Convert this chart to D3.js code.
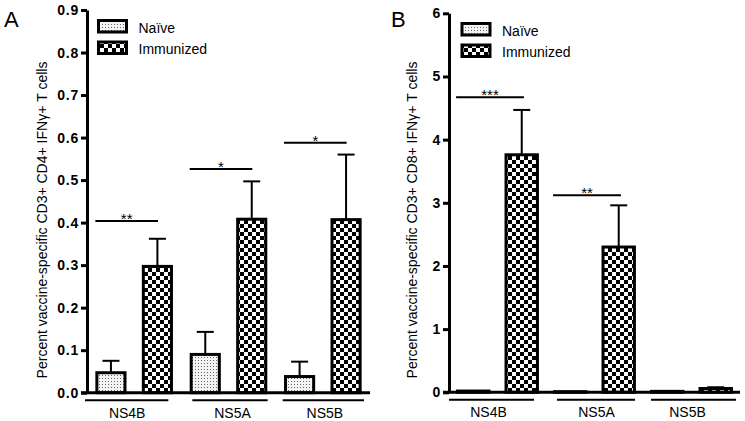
<!DOCTYPE html>
<html>
<head>
  <meta http-equiv="Content-Type" content="text/html;charset=utf-8">
  <title>CD4 / CD8 IFNγ bars</title>
  <script src="https://d3js.org/d3.v7.min.js"></script>
  <style type="text/css">
    body { margin: 0; background: #fff; }
    text { font-family: "Liberation Sans", Arial, sans-serif; fill: #000; }
    .tick text { font-weight: bold; font-size: 14px; letter-spacing: 0.8px; font-family: "Liberation Sans", Arial, sans-serif; }
    .tick line, .domain { stroke: #000; stroke-width: 3px; }
  </style>
</head>
<body>
  <svg width="745" height="421"></svg>
  <script type='text/javascript'>
    const categories = ['NS4B', 'NS5A', 'NS5B'];
    const groups = ['Naïve', 'Immunized'];

    // panel A: CD4+ (mean and SEM)
    const cd4Naive = [0.047, 0.090, 0.038];
    const cd4NaiveErr = [0.028, 0.053, 0.035];
    const cd4Immun = [0.297, 0.408, 0.407];
    const cd4ImmunErr = [0.065, 0.089, 0.153];
    const cd4Stars = ['**', '*', '*'];
    const cd4StarLevel = [0.404, 0.526, 0.588];
    const cd4Ticks = [0, 0.1, 0.2, 0.3, 0.4, 0.5, 0.6, 0.7, 0.8, 0.9];

    // panel B: CD8+
    const cd8Naive = [0.02, 0.01, 0.015];
    const cd8NaiveErr = [0, 0, 0];
    const cd8Immun = [3.76, 2.30, 0.06];
    const cd8ImmunErr = [0.71, 0.66, 0.02];
    const cd8Stars = ['***', '**', ''];
    const cd8StarLevel = [4.67, 3.12, null];
    const cd8Ticks = [0, 1, 2, 3, 4, 5, 6];

    const svg = d3.select('svg');

    // fill patterns
    const defs = svg.append('defs');
    const stip = defs.append('pattern').attr('id', 'stipple')
      .attr('patternUnits', 'userSpaceOnUse').attr('width', 3).attr('height', 3);
    stip.append('rect').attr('width', 3).attr('height', 3).attr('fill', '#f4f4f4');
    stip.append('rect').attr('width', 1).attr('height', 1).attr('fill', '#666');
    const chk = defs.append('pattern').attr('id', 'checker')
      .attr('patternUnits', 'userSpaceOnUse').attr('width', 8).attr('height', 8);
    chk.append('rect').attr('width', 8).attr('height', 8).attr('fill', '#fff');
    chk.append('rect').attr('width', 4).attr('height', 4).attr('fill', '#000');
    chk.append('rect').attr('x', 4).attr('y', 4).attr('width', 4).attr('height', 4).attr('fill', '#000');
    const fills = ['url(#stipple)', 'url(#checker)'];

    function panel(o) {
      const g = svg.append('g');
      const y = d3.scaleLinear().domain(o.domain).range([o.y0, o.y1]);
      const x = d3.scaleBand().domain(categories).range([o.x0, o.x1]);
      const xs = d3.scaleBand().domain(groups).range([0, x.bandwidth()])
        .paddingInner(o.padIn).paddingOuter(o.padOut);

      const rows = [];
      categories.forEach((c, i) => {
        rows.push({ c: c, k: groups[0], v: o.naive[i], e: o.naiveErr[i] });
        rows.push({ c: c, k: groups[1], v: o.immun[i], e: o.immunErr[i] });
      });

      // error bars (upward only)
      const eb = g.selectAll('.err').data(rows.filter(d => d.e > 0)).enter().append('g');
      eb.append('line')
        .attr('x1', d => x(d.c) + xs(d.k) + xs.bandwidth() / 2)
        .attr('x2', d => x(d.c) + xs(d.k) + xs.bandwidth() / 2)
        .attr('y1', d => y(d.v)).attr('y2', d => y(d.v + d.e))
        .attr('stroke', '#000').attr('stroke-width', 2);
      eb.append('line')
        .attr('x1', d => x(d.c) + xs(d.k) + xs.bandwidth() / 2 - 8.5)
        .attr('x2', d => x(d.c) + xs(d.k) + xs.bandwidth() / 2 + 8.5)
        .attr('y1', d => y(d.v + d.e)).attr('y2', d => y(d.v + d.e))
        .attr('stroke', '#000').attr('stroke-width', 2);

      // bars
      g.selectAll('.bar').data(rows).enter().append('rect')
        .attr('x', d => x(d.c) + xs(d.k) + 1.5)
        .attr('width', xs.bandwidth() - 3)
        .attr('y', d => y(d.v))
        .attr('height', d => y(0) - y(d.v))
        .attr('fill', d => fills[groups.indexOf(d.k)])
        .attr('stroke', '#000').attr('stroke-width', 3);

      // y axis
      g.append('g').attr('transform', `translate(${o.x0},0)`)
        .call(d3.axisLeft(y).tickValues(o.ticks).tickFormat(d3.format(o.fmt))
          .tickSize(6).tickSizeOuter(0).tickPadding(2));

      // x axis line
      g.append('line').attr('x1', o.x0 - 6).attr('x2', o.x1)
        .attr('y1', y(0)).attr('y2', y(0))
        .attr('stroke', '#000').attr('stroke-width', 3);

      // category underlines and labels
      categories.forEach((c, i) => {
        g.append('line')
          .attr('x1', x(c) + o.ul[i][0]).attr('x2', x(c) + x.bandwidth() + o.ul[i][1])
          .attr('y1', y(0) + 7.5).attr('y2', y(0) + 7.5)
          .attr('stroke', '#000').attr('stroke-width', 2);
        g.append('text').attr('x', x(c) + x.bandwidth() / 2 + o.ul[i][2]).attr('y', y(0) + 25)
          .attr('text-anchor', 'middle').style('font-size', '14px').text(c);
      });

      // significance bars
      categories.forEach((c, i) => {
        if (!o.stars[i]) return;
        const ly = y(o.starLevel[i]);
        const xa = x(c) + xs(groups[0]);
        const xb = x(c) + xs(groups[1]) + xs.bandwidth();
        g.append('line').attr('x1', xa).attr('x2', xb - 15)
          .attr('y1', ly).attr('y2', ly).attr('stroke', '#000').attr('stroke-width', 2);
        g.append('text').attr('x', (xa + xb - 15) / 2).attr('y', ly + 3)
          .attr('text-anchor', 'middle').style('font-size', '15px').text(o.stars[i]);
      });

      // legend
      groups.forEach((k, i) => {
        const ly = o.legY + i * 21.5;
        g.append('rect').attr('x', o.legX).attr('y', ly).attr('width', 28).attr('height', 11.5)
          .attr('fill', fills[i]).attr('stroke', '#000').attr('stroke-width', 3);
        g.append('text').attr('x', o.legX + 40).attr('y', ly + 12)
          .style('font-size', '14px').text(k);
      });

      // y title and panel letter
      g.append('text')
        .attr('transform', `translate(${o.titleX},${o.titleY}) rotate(-90)`)
        .attr('text-anchor', 'middle').style('font-size', '14px').text(o.title);
      g.append('text').attr('x', o.letterX).attr('y', 27)
        .style('font-size', '22px').text(o.letter);
    }

    panel({
      domain: [0, 0.9], y0: 392.7, y1: 10, x0: 87, x1: 370,
      padIn: 0.33, padOut: 0.18, ticks: cd4Ticks, fmt: '.1f',
      naive: cd4Naive, naiveErr: cd4NaiveErr, immun: cd4Immun, immunErr: cd4ImmunErr,
      stars: cd4Stars, starLevel: cd4StarLevel,
      ul: [[-2, -13, -7], [11, -8, 4], [7, -6, 2]],
      legX: 98.5, legY: 20.5,
      title: 'Percent vaccine-specific CD3+ CD4+ IFNγ+ T cells', titleX: 47, titleY: 220,
      letter: 'A', letterX: 4
    });

    panel({
      domain: [0, 6], y0: 392.3, y1: 13.3, x0: 449, x1: 740,
      padIn: 0.29, padOut: 0.146, ticks: cd8Ticks, fmt: 'd',
      naive: cd8Naive, naiveErr: cd8NaiveErr, immun: cd8Immun, immunErr: cd8ImmunErr,
      stars: cd8Stars, starLevel: cd8StarLevel,
      ul: [[0, -12, -9], [11, -8, 2], [8, -4, -4]],
      legX: 462, legY: 23.5,
      title: 'Percent vaccine-specific CD3+ CD8+ IFNγ+ T cells', titleX: 417, titleY: 220,
      letter: 'B', letterX: 391
    });
  </script>
</body>
</html>
